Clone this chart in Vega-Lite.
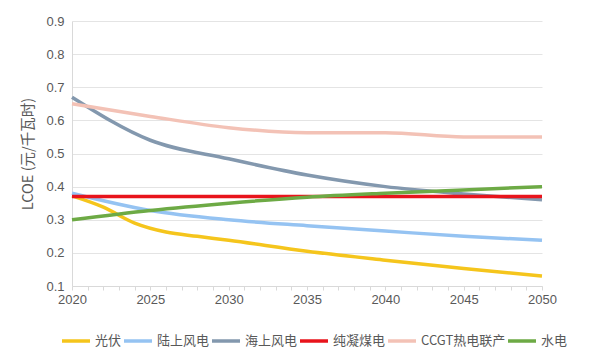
{
  "$schema": "https://vega.github.io/schema/vega-lite/v6.json",
  "width": 470,
  "height": 265,
  "autosize": {"type": "none"},
  "padding": {"left": 72, "top": 21, "right": 68, "bottom": 74},
  "background": "white",
  "config": {
    "view": {"stroke": null},
    "font": "Liberation Sans",
    "axis": {"labelColor": "#595959", "titleColor": "#595959", "labelFontSize": 13, "domainColor": "#d9d9d9", "tickColor": "#d9d9d9", "gridColor": "#e4e4e4"}
  },
  "data": {"values": [
    {"year": 2020, "series": "光伏", "v": 0.372},
    {"year": 2022, "series": "光伏", "v": 0.338},
    {"year": 2024, "series": "光伏", "v": 0.29},
    {"year": 2026, "series": "光伏", "v": 0.263},
    {"year": 2028, "series": "光伏", "v": 0.25},
    {"year": 2030, "series": "光伏", "v": 0.238},
    {"year": 2035, "series": "光伏", "v": 0.205},
    {"year": 2040, "series": "光伏", "v": 0.178},
    {"year": 2045, "series": "光伏", "v": 0.153},
    {"year": 2050, "series": "光伏", "v": 0.13},
    {"year": 2020, "series": "陆上风电", "v": 0.38},
    {"year": 2025, "series": "陆上风电", "v": 0.328},
    {"year": 2030, "series": "陆上风电", "v": 0.30},
    {"year": 2035, "series": "陆上风电", "v": 0.282},
    {"year": 2040, "series": "陆上风电", "v": 0.266},
    {"year": 2045, "series": "陆上风电", "v": 0.25},
    {"year": 2050, "series": "陆上风电", "v": 0.238},
    {"year": 2020, "series": "海上风电", "v": 0.67},
    {"year": 2025, "series": "海上风电", "v": 0.54},
    {"year": 2030, "series": "海上风电", "v": 0.484},
    {"year": 2035, "series": "海上风电", "v": 0.435},
    {"year": 2040, "series": "海上风电", "v": 0.40},
    {"year": 2045, "series": "海上风电", "v": 0.378},
    {"year": 2050, "series": "海上风电", "v": 0.36},
    {"year": 2020, "series": "纯凝煤电", "v": 0.37},
    {"year": 2050, "series": "纯凝煤电", "v": 0.37},
    {"year": 2020, "series": "CCGT热电联产", "v": 0.65},
    {"year": 2025, "series": "CCGT热电联产", "v": 0.612},
    {"year": 2030, "series": "CCGT热电联产", "v": 0.578},
    {"year": 2035, "series": "CCGT热电联产", "v": 0.563},
    {"year": 2040, "series": "CCGT热电联产", "v": 0.563},
    {"year": 2045, "series": "CCGT热电联产", "v": 0.55},
    {"year": 2050, "series": "CCGT热电联产", "v": 0.55},
    {"year": 2020, "series": "水电", "v": 0.30},
    {"year": 2025, "series": "水电", "v": 0.328},
    {"year": 2030, "series": "水电", "v": 0.35},
    {"year": 2035, "series": "水电", "v": 0.368},
    {"year": 2040, "series": "水电", "v": 0.38},
    {"year": 2045, "series": "水电", "v": 0.39},
    {"year": 2050, "series": "水电", "v": 0.40}
  ]},
  "mark": {"type": "line", "interpolate": "monotone", "strokeWidth": 3.5},
  "encoding": {
    "x": {
      "field": "year", "type": "quantitative",
      "scale": {"domain": [2020, 2050], "nice": false, "zero": false},
      "axis": {
        "title": null, "grid": false,
        "values": [2020,2021,2022,2023,2024,2025,2026,2027,2028,2029,2030,2031,2032,2033,2034,2035,2036,2037,2038,2039,2040,2041,2042,2043,2044,2045,2046,2047,2048,2049,2050],
        "labelExpr": "datum.value % 5 == 0 ? datum.value : ''",
        "format": "d", "tickSize": 4, "labelPadding": 3, "labelFlush": false, "labelOverlap": false
      }
    },
    "y": {
      "field": "v", "type": "quantitative",
      "scale": {"domain": [0.1, 0.9], "nice": false, "zero": false},
      "axis": {
        "title": "LCOE (元/千瓦时)", "titleFont": "Noto Sans CJK SC", "titleFontSize": 14.5, "titleFontWeight": "normal", "titlePadding": 10,
        "values": [0.1,0.2,0.3,0.4,0.5,0.6,0.7,0.8,0.9], "format": ".1f",
        "ticks": false, "labelPadding": 8, "domain": true
      }
    },
    "color": {
      "field": "series", "type": "nominal",
      "sort": ["光伏", "陆上风电", "海上风电", "纯凝煤电", "CCGT热电联产", "水电"],
      "scale": {
        "domain": ["光伏", "陆上风电", "海上风电", "纯凝煤电", "CCGT热电联产", "水电"],
        "range": ["#F5C51C", "#95C3F2", "#8398AE", "#E8141C", "#F3C2B6", "#6DAA45"]
      },
      "legend": {
        "title": null, "orient": "none", "legendX": -12, "legendY": 304, "direction": "horizontal",
        "symbolType": "stroke", "symbolSize": 784, "symbolStrokeWidth": 3.5,
        "labelFont": "Noto Sans CJK SC", "labelFontSize": 13, "labelColor": "#595959",
        "columnPadding": -10, "labelOffset": 3
      }
    }
  }
}
